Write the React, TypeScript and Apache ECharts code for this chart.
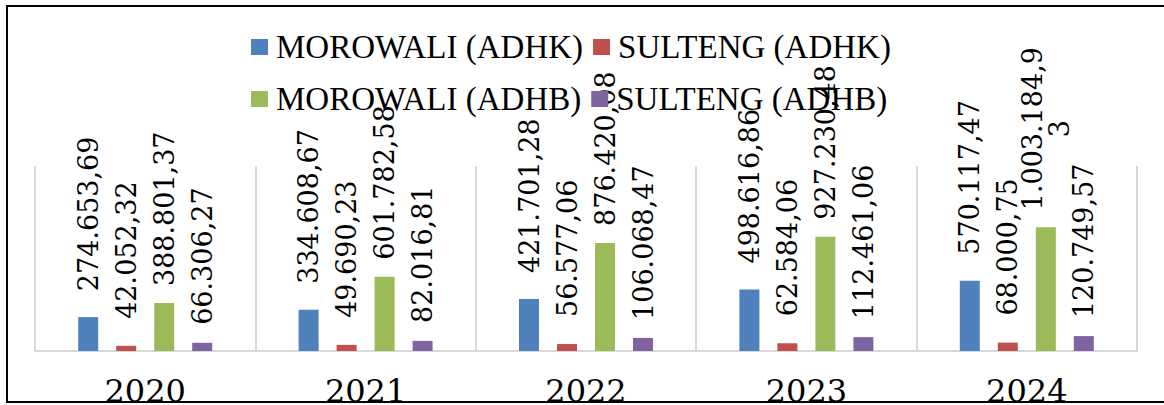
import React, { useEffect, useRef } from "react";
import * as echarts from "echarts";

const categories = ["2020", "2021", "2022", "2023", "2024"];
const seriesNames = ["MOROWALI (ADHK)", "SULTENG (ADHK)", "MOROWALI (ADHB)", "SULTENG (ADHB)"];
const morowaliAdhk = [274653.69, 334608.67, 421701.28, 498616.86, 570117.47];
const sultengAdhk = [42052.32, 49690.23, 56577.06, 62584.06, 68000.75];
const morowaliAdhb = [388801.37, 601782.58, 876420.08, 927230.48, 1003184.93];
const sultengAdhb = [66306.27, 82016.81, 106068.47, 112461.06, 120749.57];
const seriesColors = ["#4F81BD", "#C0504D", "#9BBB59", "#8064A2"];
const labelGaps = [26, 27, 17, 18];

const LABEL_FONT_SIZE = 27;
const LABEL_FONT = "DejaVu Serif";
const LABEL_WRAP = 170;

function formatId(n: number): string {
  const [intPart, dec] = n.toFixed(2).split(".");
  const withDots = intPart.replace(/\B(?=(\d{3})+(?!\d))/g, ".");
  return withDots + "," + dec;
}

let measureCtx: CanvasRenderingContext2D | null = null;
function textWidth(s: string): number {
  if (!measureCtx) {
    measureCtx = document.createElement("canvas").getContext("2d");
  }
  measureCtx!.font = `${LABEL_FONT_SIZE}px "${LABEL_FONT}"`;
  return measureCtx!.measureText(s).width;
}

function wrapLines(s: string): string[] {
  const lines: string[] = [];
  let cur = "";
  for (const ch of s) {
    if (cur && textWidth(cur + ch) > LABEL_WRAP) {
      lines.push(cur);
      cur = ch;
    } else {
      cur += ch;
    }
  }
  if (cur) lines.push(cur);
  return lines;
}

function buildData(values: number[], gap: number) {
  return values.map((v) => {
    const lines = wrapLines(formatId(v));
    const maxW = Math.max(...lines.map(textWidth));
    return {
      value: v,
      label: {
        distance: gap + maxW / 2,
        formatter: lines.join("\n"),
      },
    };
  });
}

export default function App() {
  const ref = useRef<HTMLDivElement>(null);

  useEffect(() => {
    if (!ref.current) return;
    const chart = echarts.init(ref.current, null, { renderer: "svg" });
    const allValues = [morowaliAdhk, sultengAdhk, morowaliAdhb, sultengAdhb];

    const series = allValues.map((vals, i) => ({
      name: seriesNames[i],
      type: "bar",
      barWidth: 20,
      barGap: "90%",
      itemStyle: { color: seriesColors[i] },
      label: {
        show: true,
        position: "top",
        rotate: 90,
        align: "center",
        verticalAlign: "middle",
        fontFamily: LABEL_FONT,
        fontSize: LABEL_FONT_SIZE,
        lineHeight: 27,
        color: "#000",
      },
      data: buildData(vals, labelGaps[i]),
    }));

    const legendText = {
      fontFamily: "Liberation Serif",
      fontSize: 33,
      lineHeight: 34,
      color: "#000",
      padding: [0, 0, 0, 3],
    };

    chart.setOption({
      animation: false,
      backgroundColor: "#fff",
      grid: {
        left: 35,
        right: 27,
        top: 166,
        bottom: 54,
        containLabel: false,
        outerBoundsMode: "none",
      },
      legend: [
        {
          data: [seriesNames[0], seriesNames[1]],
          left: 251,
          top: 30,
          padding: 0,
          itemGap: 10,
          itemWidth: 17,
          itemHeight: 16,
          icon: "rect",
          selectedMode: false,
          textStyle: legendText,
        },
        {
          data: [seriesNames[2], seriesNames[3]],
          left: 251,
          top: 82,
          padding: 0,
          itemGap: 10,
          itemWidth: 17,
          itemHeight: 16,
          icon: "rect",
          selectedMode: false,
          textStyle: legendText,
        },
      ],
      xAxis: {
        type: "category",
        data: categories,
        axisLine: { show: true, lineStyle: { color: "#D9D9D9", width: 2 } },
        axisTick: { show: false },
        axisLabel: {
          fontFamily: "DejaVu Serif",
          fontSize: 32,
          lineHeight: 24,
          color: "#000",
          margin: 28,
        },
        splitLine: { show: true, interval: 0, lineStyle: { color: "#D9D9D9", width: 2 } },
      },
      yAxis: {
        type: "value",
        min: 0,
        max: 1500000,
        show: false,
        splitLine: { show: false },
      },
      graphic: [
        {
          type: "rect",
          shape: { x: 7, y: 6, width: 1170, height: 396 },
          style: { fill: "none", stroke: "#000", lineWidth: 2 },
          z: 100,
        },
      ],
      series,
    });

    return () => chart.dispose();
  }, []);

  return (
    <div
      ref={ref}
      style={{ position: "absolute", left: 0, top: 0, width: 1164, height: 405 }}
    />
  );
}
